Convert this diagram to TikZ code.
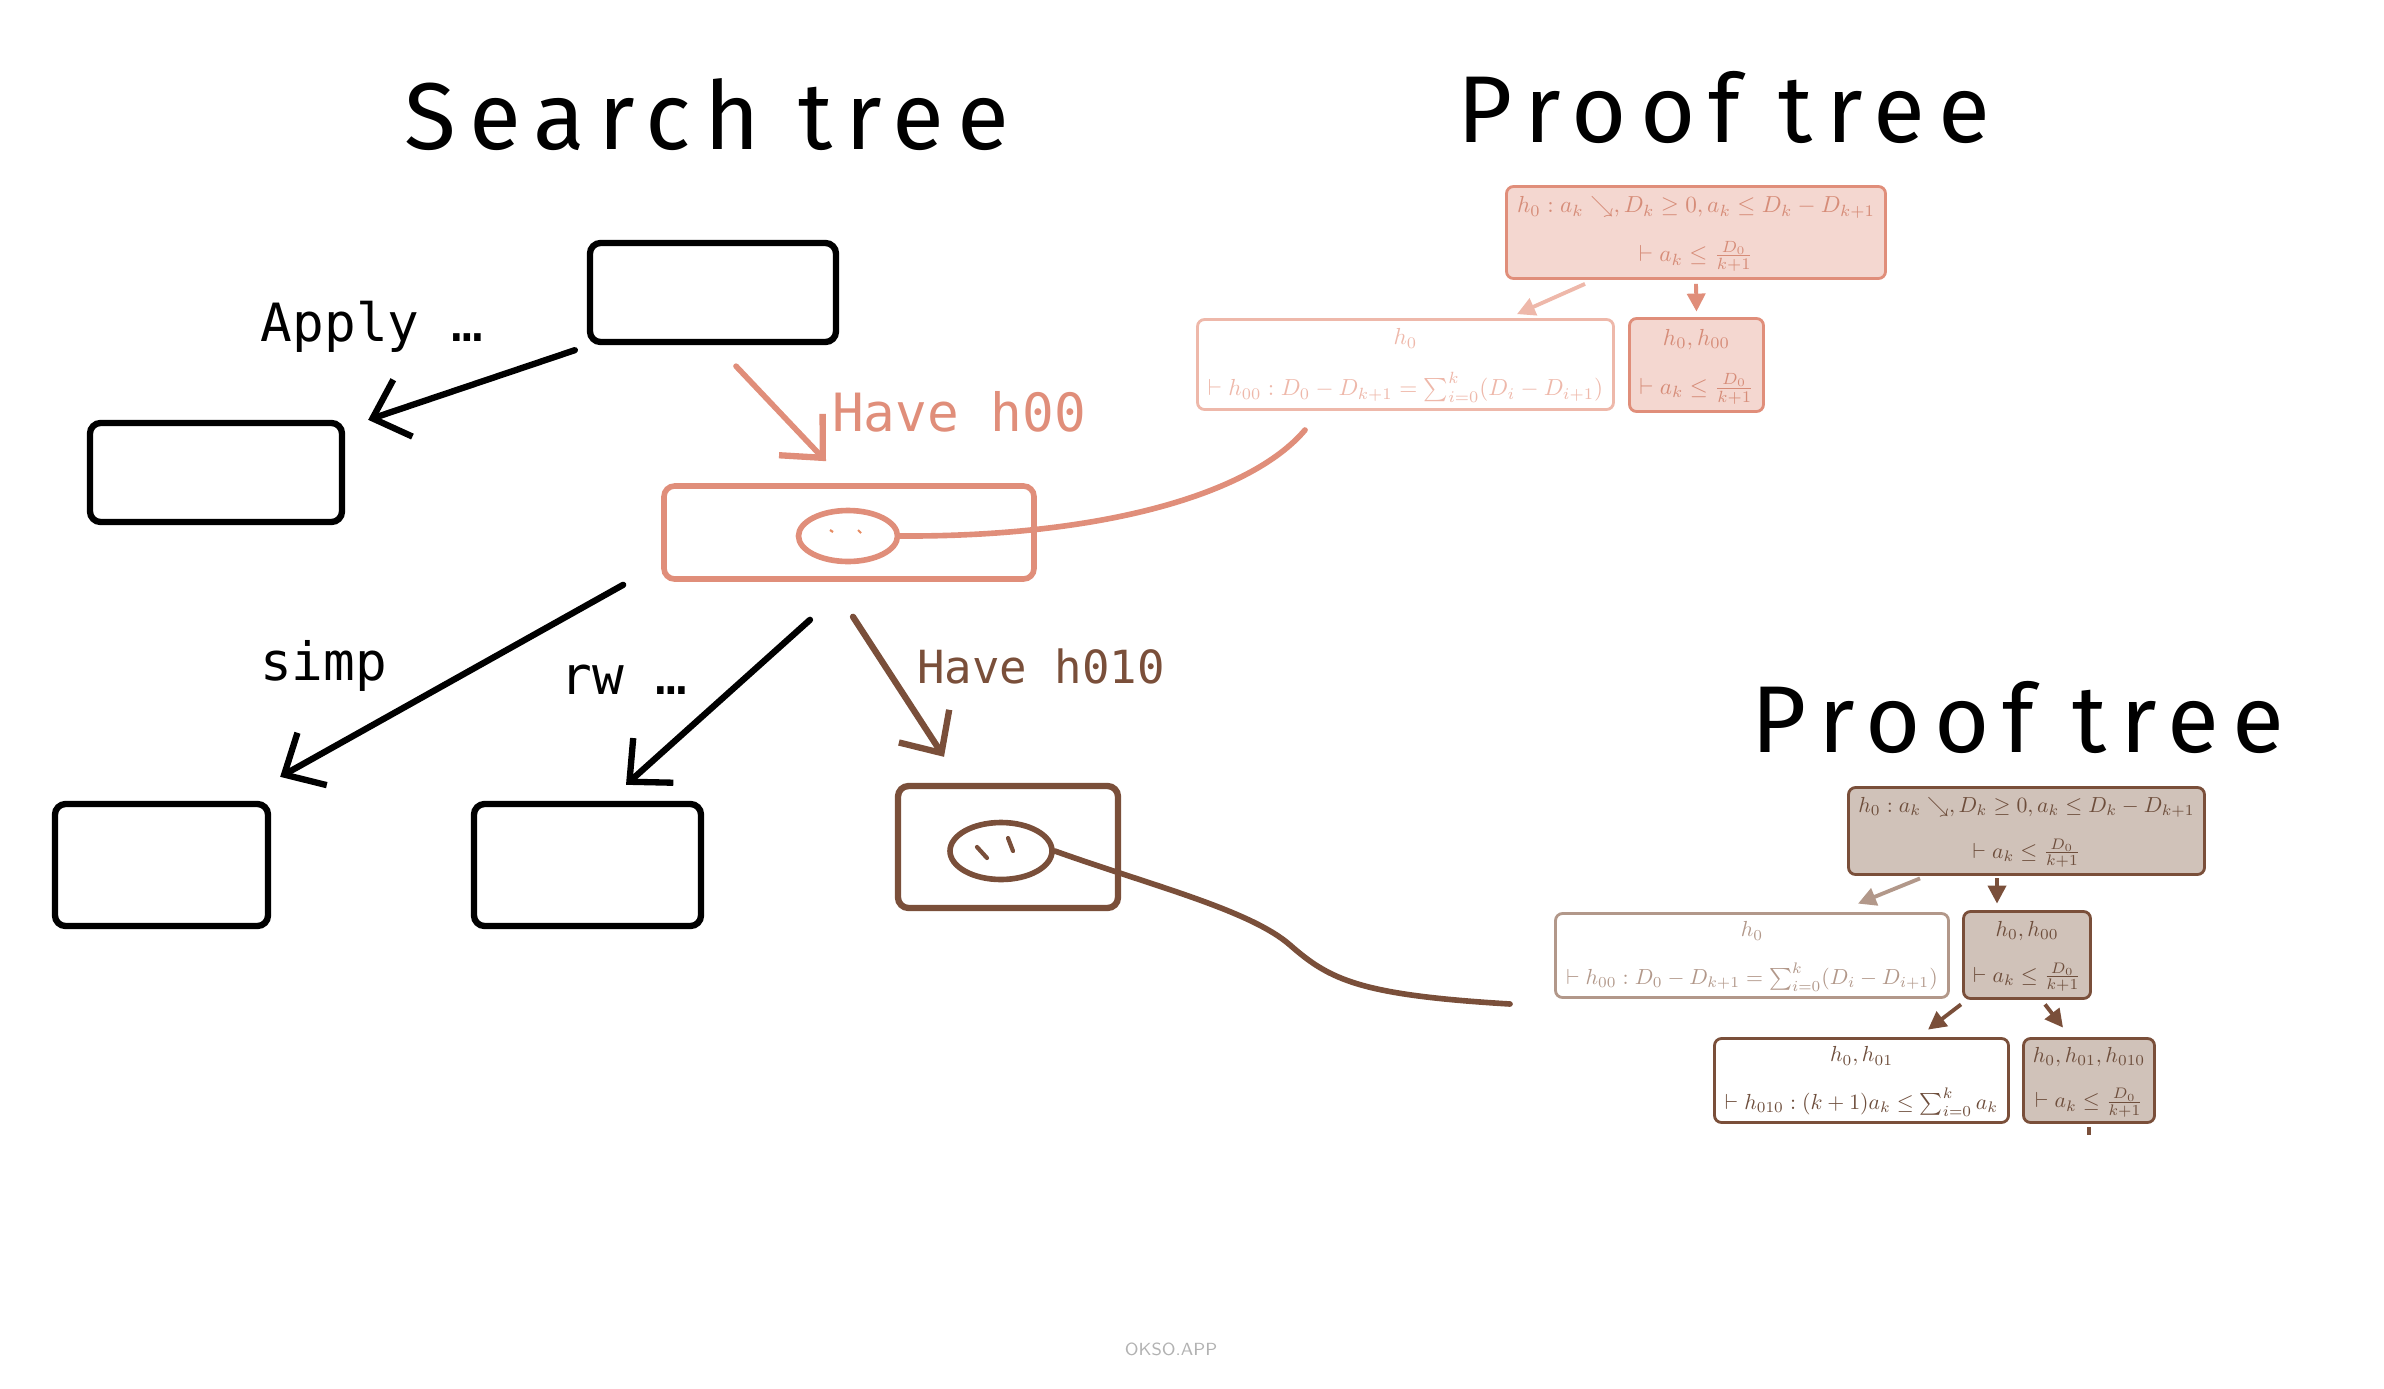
\documentclass[tikz,border=0pt]{standalone}
\usepackage{amsmath,amssymb}
\usepackage{graphicx}
\usepackage{fontspec}
\usetikzlibrary{arrows.meta,shapes.geometric}
\newfontfamily\monofont{DejaVu Sans Mono}
\newfontfamily\handfont[LetterSpace=14]{Fira Sans}
\definecolor{salmon}{RGB}{224,142,122}
\definecolor{salmonfill}{RGB}{244,215,208}
\definecolor{salmonlt}{RGB}{238,184,170}
\definecolor{salmontxt}{RGB}{214,140,120}
\definecolor{bark}{RGB}{122,79,58}
\definecolor{barkfill}{RGB}{208,194,185}
\definecolor{barklt}{RGB}{178,152,138}
\definecolor{barktxt}{RGB}{110,78,60}
% two centred lines of a goal, shrunk
\newcommand{\goaltext}[3]{\scalebox{#1}{\begin{tabular}{@{}c@{}}#2\\[8.5pt]#3\end{tabular}}}
\begin{document}
\begin{tikzpicture}[
	sbox/.style={draw,rounded corners=3pt,line width=1.8pt,inner sep=0pt},
	sarr/.style={line width=1.8pt,line cap=round,-{Straight Barb[length=3.2mm,width=6mm,line width=1.8pt]}},
	slabel/.style={font=\monofont\fontsize{15}{15}\selectfont},
	title/.style={font=\handfont\fontsize{27}{27}\selectfont},
	loupe/.style={ellipse,draw,inner sep=0pt,line width=1.6pt},
	pbox/.style={draw,rounded corners=2pt,line width=0.8pt,inner sep=0pt},
	parr/.style={line width=1.1pt,-{Triangle[length=1.8mm,width=1.8mm]}}
	]
	\useasboundingbox (0,0) rectangle (23.84,-13.88);
	% titles
	\node[title] (tsearch) at (7.07,-1.15) {Search tree};
	\node[title] (tproof) at (17.24,-1.07) {Proof tree};
	\node[title] (tproofb) at (20.18,-7.17) {Proof tree};
	% search tree
	\node[sbox,minimum width=2.46cm,minimum height=0.99cm] (sroot) at (7.13,-2.925) {};
	\node[sbox,minimum width=2.52cm,minimum height=0.99cm] (sapply) at (2.16,-4.725) {};
	\node[sbox,draw=salmon,line width=1.6pt,minimum width=3.70cm,minimum height=0.93cm] (shave) at (8.49,-5.325) {};
	\node[sbox,minimum width=2.13cm,minimum height=1.22cm] (ssimp) at (1.615,-8.65) {};
	\node[sbox,minimum width=2.27cm,minimum height=1.22cm] (srw) at (5.875,-8.65) {};
	\node[sbox,draw=bark,minimum width=2.20cm,minimum height=1.22cm] (shavb) at (10.08,-8.47) {};
	\node[loupe,draw=salmon,minimum width=0.99cm,minimum height=0.51cm] (eh00) at (8.48,-5.36) {};
	\node[loupe,draw=bark,minimum width=1.02cm,minimum height=0.57cm] (eh010) at (10.01,-8.51) {};
	\draw[salmon!80!orange,line width=0.6pt] (8.30,-5.30)--(8.33,-5.32) (8.58,-5.30)--(8.61,-5.33);
	\draw[bark,line width=1.2pt,line cap=round] (9.77,-8.47)--(9.87,-8.58) (10.08,-8.38)--(10.13,-8.51);
	\draw[sarr] ([shift={(-0.12,-0.05)}]sroot.south west) -- ([shift={(0.23,0)}]sapply.north east);
	\draw[sarr,salmon,line width=1.6pt] ([shift={(0.23,-0.21)}]sroot.south) -- ([shift={(-0.23,0.22)}]shave.north);
	\draw[sarr] ([shift={(-0.38,-0.03)}]shave.south west) -- ([shift={(0.09,0.24)}]ssimp.north east);
	\draw[sarr] ([shift={(-0.39,-0.38)}]shave.south) -- ([shift={(0.385,0.16)}]srw.north);
	\draw[sarr,bark] ([shift={(0.04,-0.35)}]shave.south) -- ([shift={(-0.64,0.26)}]shavb.north);
	\node[slabel] (lapply) at (3.72,-3.27) {Apply …};
	\node[slabel,text=salmon] (lhave) at (9.59,-4.12) {Have h00};
	\node[slabel] (lsimp) at (3.235,-6.66) {simp};
	\node[slabel] (lrw) at (6.24,-6.80) {rw …};
	\node[slabel,text=bark,font=\monofont\fontsize{13}{13}\selectfont] (lhavb) at (10.41,-6.66) {Have h010};
	% first proof tree
	\node[pbox,draw=salmon,fill=salmonfill,text=salmontxt,minimum width=3.79cm,minimum height=0.92cm] (pa) at (16.96,-2.325)
		{\goaltext{0.66}{$h_0 : a_k \searrow, D_k \geq 0, a_k \leq D_k - D_{k+1}$}{$\vdash a_k \leq \frac{D_0}{k+1}$}};
	\node[pbox,draw=salmonlt,text=salmonlt,minimum width=4.16cm,minimum height=0.90cm] (pb) at (14.055,-3.645)
		{\goaltext{0.66}{$h_0$}{$\vdash h_{00} : D_0 - D_{k+1} = \sum_{i=0}^k (D_i - D_{i+1})$}};
	\node[pbox,draw=salmon,fill=salmonfill,text=salmontxt,minimum width=1.34cm,minimum height=0.93cm] (pc) at (16.965,-3.65)
		{\goaltext{0.66}{$h_0, h_{00}$}{$\vdash a_k \leq \frac{D_0}{k+1}$}};
	\draw[parr,salmonlt] ([shift={(-1.11,-0.04)}]pa.south) -- ([shift={(1.115,0.04)}]pb.north);
	\draw[parr,salmon] ([yshift=-0.4mm]pa.south) -- ([yshift=0.55mm]pc.north);
	\coordinate (hend) at (13.05,-4.30);
	\draw[salmon,line width=1.6pt,line cap=round] (eh00.east) .. controls (11.0,-5.37) and (12.5,-4.95) .. (hend);
	% second proof tree
	\node[pbox,draw=bark,fill=barkfill,text=barktxt,minimum width=3.56cm,minimum height=0.87cm] (qa) at (20.265,-8.31)
		{\goaltext{0.62}{$h_0 : a_k \searrow, D_k \geq 0, a_k \leq D_k - D_{k+1}$}{$\vdash a_k \leq \frac{D_0}{k+1}$}};
	\node[pbox,draw=barklt,text=barklt,minimum width=3.93cm,minimum height=0.84cm] (qb) at (17.52,-9.555)
		{\goaltext{0.62}{$h_0$}{$\vdash h_{00} : D_0 - D_{k+1} = \sum_{i=0}^k (D_i - D_{i+1})$}};
	\node[pbox,draw=bark,fill=barkfill,text=barktxt,minimum width=1.27cm,minimum height=0.87cm] (qc) at (20.27,-9.55)
		{\goaltext{0.62}{$h_0, h_{00}$}{$\vdash a_k \leq \frac{D_0}{k+1}$}};
	\node[pbox,draw=bark,text=barktxt,minimum width=2.94cm,minimum height=0.84cm] (qd) at (18.615,-10.805)
		{\goaltext{0.62}{$h_0, h_{01}$}{$\vdash h_{010} : (k+1) a_k \leq \sum_{i=0}^k a_k$}};
	\node[pbox,draw=bark,fill=barkfill,text=barktxt,minimum width=1.31cm,minimum height=0.84cm] (qe) at (20.89,-10.805)
		{\goaltext{0.62}{$h_0, h_{01}, h_{010}$}{$\vdash a_k \leq \frac{D_0}{k+1}$}};
	\draw[parr,barklt] ([shift={(-1.065,-0.025)}]qa.south) -- ([shift={(1.06,0.085)}]qb.north);
	\draw[parr,bark] ([shift={(-0.295,-0.025)}]qa.south) -- ([shift={(-0.30,0.065)}]qc.north);
	\draw[parr,bark] ([shift={(-0.66,-0.045)}]qc.south) -- ([shift={(0.665,0.075)}]qd.north);
	\draw[parr,bark] ([shift={(0.18,-0.045)}]qc.south) -- ([shift={(-0.26,0.095)}]qe.north);
	\draw[bark,line width=1.1pt] ([yshift=-0.3mm]qe.south) -- ([yshift=-1.1mm]qe.south);
	\coordinate (bend) at (15.10,-10.04);
	\draw[bark,line width=1.6pt,line cap=round] (eh010.east) .. controls (11.5,-8.85) and (12.5,-9.1) .. (12.9,-9.45)
		.. controls (13.3,-9.8) and (13.6,-9.95) .. (bend);
	\node[font=\sffamily\fontsize{5}{5}\selectfont,text=black!30] (mark) at (11.71,-13.49) {OKSO.APP};
\end{tikzpicture}
\end{document}
